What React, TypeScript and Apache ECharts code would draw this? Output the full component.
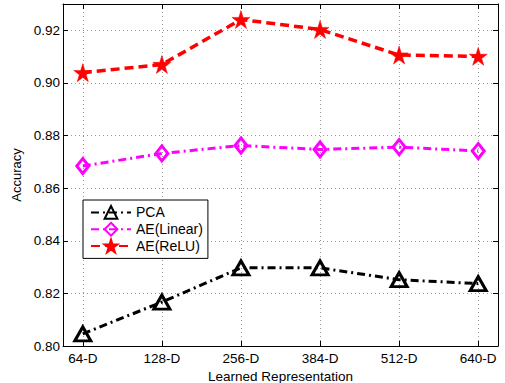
import React, { useEffect, useRef } from "react";
import * as echarts from "echarts";

const categories = ["64-D", "128-D", "256-D", "384-D", "512-D", "640-D"];
const pcaValues = [0.8046, 0.8167, 0.8297, 0.8297, 0.8252, 0.8237];
const linearValues = [0.8684, 0.8732, 0.8762, 0.8747, 0.8756, 0.8741];
const reluValues = [0.9039, 0.907, 0.9241, 0.9203, 0.9106, 0.9101];
const yTicks = [0.8, 0.82, 0.84, 0.86, 0.88, 0.9, 0.92];

const STAR = "path://M50,0 L61.2,34.5 L97.6,34.5 L68.2,55.9 L79.4,90.5 L50,69.1 L20.6,90.5 L31.8,55.9 L2.4,34.5 L38.8,34.5 Z";
const FONT = "'Liberation Sans', Arial, Helvetica, sans-serif";

const xPositions = categories.map((_, i) => i + 1);
const toPoints = (vals: number[]) => vals.map((v, i) => [xPositions[i], v]);

export default function App() {
  const ref = useRef<HTMLDivElement>(null);
  useEffect(() => {
    document.body.style.margin = "0";
    const chart = echarts.init(ref.current!, null, { renderer: "svg" });
    const xBase = {
      type: "value" as const,
      min: 0.75,
      max: 6.25,
      axisLine: { show: true, lineStyle: { color: "#000", width: 1 } },
      axisTick: { show: true, inside: true, length: 5, customValues: xPositions, lineStyle: { color: "#000" } },
    };
    const yBase = {
      type: "value" as const,
      min: 0.8,
      max: 0.93,
      interval: 0.02,
      axisLine: { show: true, lineStyle: { color: "#000", width: 1 } },
      axisTick: { show: true, inside: true, length: 5, lineStyle: { color: "#000" } },
    };
    chart.setOption({
      animation: false,
      backgroundColor: "#fff",
      textStyle: { fontFamily: FONT },
      grid: { left: 63, right: 7, top: 4, bottom: 37, containLabel: false, outerBoundsMode: "none" },
      xAxis: [
        {
          ...xBase,
          position: "bottom",
          name: "Learned Representation",
          nameLocation: "middle",
          nameGap: 20,
          nameTextStyle: { fontSize: 13.5, color: "#000", fontFamily: FONT },
          axisLabel: {
            customValues: xPositions,
            fontSize: 13.5,
            color: "#000",
            fontFamily: FONT,
            margin: 5,
            formatter: (v: number) => categories[Math.round(v) - 1] ?? "",
          },
          splitLine: { show: true, lineStyle: { type: [1, 3], color: "#999", width: 1 } },
        },
        {
          ...xBase,
          position: "top",
          axisLabel: { show: false },
          splitLine: { show: false },
        },
      ],
      yAxis: [
        {
          ...yBase,
          position: "left",
          name: "Accuracy",
          nameLocation: "middle",
          nameGap: 31,
          nameTextStyle: { fontSize: 13, color: "#000", fontFamily: FONT },
          axisLabel: {
            fontSize: 13.5,
            color: "#000",
            fontFamily: FONT,
            margin: 3,
            showMaxLabel: false,
            formatter: (v: number) => (yTicks.some((t) => Math.abs(t - v) < 1e-6) ? v.toFixed(2) : ""),
          },
          splitLine: { show: true, lineStyle: { type: [1, 3], color: "#999", width: 1 } },
        },
        {
          ...yBase,
          position: "right",
          axisLabel: { show: false },
          splitLine: { show: false },
        },
      ],
      legend: {
        orient: "vertical",
        left: 83,
        top: 200,
        itemWidth: 40,
        itemHeight: 16,
        itemGap: 2,
        padding: [5, 5, 5, 7],
        backgroundColor: "#fff",
        borderColor: "#000",
        borderWidth: 1,
        borderRadius: 0,
        textStyle: { fontSize: 14, color: "#000", fontFamily: FONT },
        data: ["PCA", "AE(Linear)", "AE(ReLU)"],
      },
      series: [
        {
          name: "PCA",
          type: "line",
          data: toPoints(pcaValues),
          symbol: "triangle",
          symbolSize: [16, 14],
          showAllSymbol: true,
          lineStyle: { color: "#000", width: 3, type: [8, 4, 2, 4] },
          itemStyle: { color: "transparent", borderColor: "#000", borderWidth: 3 },
          z: 3,
        },
        {
          name: "AE(Linear)",
          type: "line",
          data: toPoints(linearValues),
          symbol: "diamond",
          symbolSize: [12, 15],
          lineStyle: { color: "#ff00ff", width: 3, type: [8, 4, 2, 4] },
          itemStyle: { color: "transparent", borderColor: "#ff00ff", borderWidth: 3 },
          z: 3,
        },
        {
          name: "AE(ReLU)",
          type: "line",
          data: toPoints(reluValues),
          symbol: STAR,
          symbolSize: 18,
          lineStyle: { color: "#ff0000", width: 3.5, type: [9, 5] },
          itemStyle: { color: "#ff0000", borderColor: "#ff0000", borderWidth: 0.5 },
          z: 3,
        },
      ],
    });
    return () => chart.dispose();
  }, []);
  return <div ref={ref} style={{ width: 505, height: 383 }} />;
}
